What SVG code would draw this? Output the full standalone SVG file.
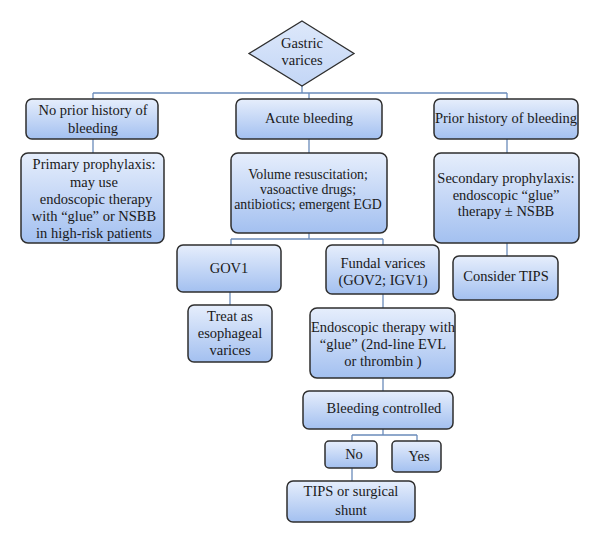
<svg xmlns="http://www.w3.org/2000/svg" width="600" height="543" viewBox="0 0 600 543">
<defs>
<linearGradient id="g" x1="0" y1="0" x2="0" y2="1">
<stop offset="0" stop-color="#e6eefc"/>
<stop offset="1" stop-color="#a3c0f0"/>
</linearGradient>
<linearGradient id="gd" x1="0" y1="0" x2="0" y2="1">
<stop offset="0" stop-color="#dde8fa"/>
<stop offset="1" stop-color="#c3d6f6"/>
</linearGradient>
</defs>
<style>
.box{fill:url(#g);stroke:#2e2e2e;stroke-width:1.5}
.dia{fill:url(#gd);stroke:#2e2e2e;stroke-width:1.3}
.t{font-family:"Liberation Serif","Times New Roman",serif;font-size:14.5px;fill:#1a1a1a;text-anchor:middle}
.s{font-size:13.8px}
.c{fill:none;stroke:#6b8cba;stroke-width:1.3}
</style>
<rect width="600" height="543" fill="#ffffff"/>
<g id="connectors" class="c">
<path d="M302 86V93M93 93H507M93 93V99M309 93V99M507 93V99"/>
<path d="M93 139V153M309 139V153M507 139V153"/>
<path d="M309 233V239M231 239H383M231 239V245M383 239V245"/>
<path d="M230 292V305M383 294V308M507 243V256"/>
<path d="M383 378V391M383 429V435M352 435H417M352 435V441M417 435V441M352 468V481"/>
</g>
<g id="gastric">
<polygon class="dia" points="302,21 354,53.5 302,86 249,53.5"/>
<text class="t" x="302" y="48">Gastric</text>
<text class="t" x="302" y="65">varices</text>
</g>
<g id="noprior">
<rect class="box" x="26" y="99" width="132" height="40" rx="6"/>
<text class="t" x="93" y="115">No prior history of</text>
<text class="t" x="93" y="133">bleeding</text>
</g>
<g id="acute">
<rect class="box" x="236" y="99" width="146" height="40" rx="6"/>
<text class="t" x="309" y="123">Acute bleeding</text>
</g>
<g id="prior">
<rect class="box" x="434" y="99" width="144" height="40" rx="6"/>
<text class="t" x="506" y="123">Prior history of bleeding</text>
</g>
<g id="primary">
<rect class="box" x="21" y="153" width="143" height="90" rx="7"/>
<text class="t" x="94" y="169">Primary prophylaxis:</text>
<text class="t" x="94" y="186.5">may use</text>
<text class="t" x="96" y="204">endoscopic therapy</text>
<text class="t" x="94" y="221">with “glue” or NSBB</text>
<text class="t" x="94" y="238">in high-risk patients</text>
</g>
<g id="volume">
<rect class="box" x="231" y="153" width="156" height="80" rx="7"/>
<text class="t s" x="308" y="179">Volume resuscitation;</text>
<text class="t s" x="308" y="194">vasoactive drugs;</text>
<text class="t s" x="308" y="209">antibiotics; emergent EGD</text>
</g>
<g id="secondary">
<rect class="box" x="434" y="153" width="145" height="90" rx="7"/>
<text class="t" x="506" y="183">Secondary prophylaxis:</text>
<text class="t" x="506" y="200">endoscopic “glue”</text>
<text class="t" x="506" y="216">therapy ± NSBB</text>
</g>
<g id="gov1">
<rect class="box" x="177" y="245" width="104" height="47" rx="6"/>
<text class="t" x="229" y="273">GOV1</text>
</g>
<g id="fundal">
<rect class="box" x="326" y="245" width="113" height="49" rx="6"/>
<text class="t" x="383" y="268">Fundal varices</text>
<text class="t" x="383" y="285">(GOV2; IGV1)</text>
</g>
<g id="considertips">
<rect class="box" x="453" y="256" width="105" height="44" rx="6"/>
<text class="t" x="506" y="281">Consider TIPS</text>
</g>
<g id="treat">
<rect class="box" x="188" y="305" width="84" height="57" rx="6"/>
<text class="t" x="230" y="321">Treat as</text>
<text class="t" x="230" y="338">esophageal</text>
<text class="t" x="230" y="355">varices</text>
</g>
<g id="endoscopic">
<rect class="box" x="310" y="308" width="145" height="70" rx="7"/>
<text class="t" x="383" y="332">Endoscopic therapy with</text>
<text class="t" x="383" y="349">“glue” (2nd-line EVL</text>
<text class="t" x="383" y="366">or thrombin )</text>
</g>
<g id="controlled">
<rect class="box" x="303" y="391" width="150" height="38" rx="6"/>
<text class="t" x="384" y="413">Bleeding controlled</text>
</g>
<g id="no">
<rect class="box" x="325" y="441" width="52" height="27" rx="4"/>
<text class="t" x="354" y="459">No</text>
</g>
<g id="yes">
<rect class="box" x="392" y="441" width="49" height="31" rx="4"/>
<text class="t" x="419" y="461">Yes</text>
</g>
<g id="tips">
<rect class="box" x="287" y="481" width="128" height="41" rx="6"/>
<text class="t" x="351" y="496">TIPS or surgical</text>
<text class="t" x="351" y="515">shunt</text>
</g>
</svg>
